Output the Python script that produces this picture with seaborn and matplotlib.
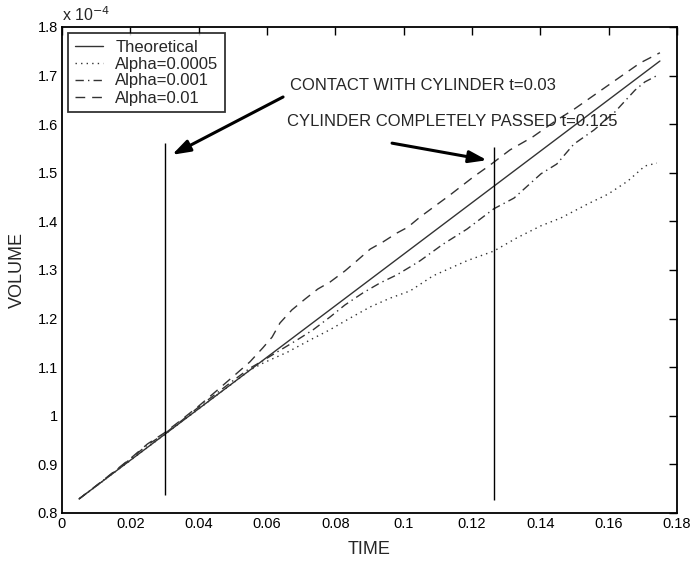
import matplotlib
matplotlib.use("Agg")
import matplotlib.pyplot as plt
import seaborn as sns

# ---- data (volume in units of 1e-4) ----
t_theory = [0.005, 0.175]
v_theory = [0.829, 1.730]

t_a0005 = [0.005, 0.01, 0.015, 0.02, 0.025, 0.03, 0.035, 0.04, 0.045, 0.05, 0.055, 0.059,
           0.066, 0.0726, 0.0784, 0.0843, 0.0902, 0.096, 0.1019, 0.1086, 0.1185, 0.1264,
           0.1331, 0.1402, 0.146, 0.1539, 0.1598, 0.1656, 0.1706, 0.1741]
v_a0005 = [0.829, 0.855, 0.882, 0.908, 0.935, 0.961, 0.988, 1.014, 1.041, 1.067, 1.094, 1.109,
           1.131, 1.156, 1.177, 1.201, 1.224, 1.242, 1.257, 1.288, 1.319, 1.339,
           1.366, 1.391, 1.407, 1.436, 1.456, 1.483, 1.514, 1.520]

t_a001 = [0.005, 0.01, 0.015, 0.02, 0.025, 0.03, 0.035, 0.04, 0.045, 0.05, 0.055, 0.0582,
          0.0688, 0.0735, 0.0784, 0.0828, 0.0881, 0.093, 0.098, 0.1018, 0.1048, 0.1115,
          0.1185, 0.1264, 0.1323, 0.1402, 0.1448, 0.1498, 0.1557, 0.1618, 0.1677, 0.1706,
          0.1744]
v_a001 = [0.829, 0.856, 0.883, 0.911, 0.940, 0.963, 0.990, 1.018, 1.045, 1.072, 1.098, 1.111,
          1.156, 1.177, 1.203, 1.228, 1.253, 1.273, 1.290, 1.306, 1.319, 1.353,
          1.384, 1.426, 1.448, 1.498, 1.518, 1.559, 1.588, 1.625, 1.670, 1.687,
          1.701]

t_a01 = [0.005, 0.01, 0.015, 0.02, 0.025, 0.03, 0.035, 0.04, 0.045, 0.0506, 0.0550, 0.0588,
         0.0615, 0.0638, 0.0673, 0.0711, 0.0749, 0.0784, 0.0828, 0.0863, 0.0902, 0.094,
         0.0980, 0.1012, 0.1048, 0.1135, 0.1203, 0.1253, 0.1311, 0.1378, 0.1449, 0.1495,
         0.1566, 0.1633, 0.1692, 0.1750]
v_a01 = [0.829, 0.856, 0.884, 0.912, 0.942, 0.965, 0.992, 1.020, 1.050, 1.084, 1.111, 1.140,
         1.162, 1.191, 1.218, 1.240, 1.261, 1.275, 1.298, 1.319, 1.343, 1.358,
         1.376, 1.388, 1.409, 1.454, 1.491, 1.516, 1.547, 1.574, 1.609, 1.629,
         1.664, 1.697, 1.726, 1.747]

series_labels = ["Theoretical", "Alpha=0.0005", "Alpha=0.001", "Alpha=0.01"]

event_times = [0.0302, 0.1264]
event_lo = [0.837, 0.827]
event_hi = [1.561, 1.553]

xticks = [0, 0.02, 0.04, 0.06, 0.08, 0.1, 0.12, 0.14, 0.16, 0.18]
xtick_labels = ["0", "0.02", "0.04", "0.06", "0.08", "0.1", "0.12", "0.14", "0.16", "0.18"]
yticks = [0.8, 0.9, 1.0, 1.1, 1.2, 1.3, 1.4, 1.5, 1.6, 1.7, 1.8]
ytick_labels = ["0.8", "0.9", "1", "1.1", "1.2", "1.3", "1.4", "1.5", "1.6", "1.7", "1.8"]

# ---- style ----
sns.set_theme(style="white")
plt.rcParams["font.family"] = ["Liberation Sans", "DejaVu Sans"]

fig = plt.figure(figsize=(6.91, 5.63), dpi=100)
ax = fig.add_axes([62/691, 1-513/563, 615/691, 486/563])

lc = "#333333"
sns.lineplot(x=t_theory, y=v_theory, ax=ax, color=lc, lw=1.0, linestyle="-", label=series_labels[0])
sns.lineplot(x=t_a0005, y=v_a0005, ax=ax, color=lc, lw=1.0, linestyle=(0, (1, 3)), label=series_labels[1])
sns.lineplot(x=t_a001, y=v_a001, ax=ax, color=lc, lw=1.0, linestyle=(0, (6, 3, 1, 3)), label=series_labels[2])
sns.lineplot(x=t_a01, y=v_a01, ax=ax, color=lc, lw=1.0, linestyle=(0, (7, 5)), label=series_labels[3])

ax.vlines(event_times, event_lo, event_hi, colors="black", lw=1.0)

ax.set_xlim(0, 0.18)
ax.set_ylim(0.8, 1.8)
ax.set_xticks(xticks)
ax.set_xticklabels(xtick_labels)
ax.set_yticks(yticks)
ax.set_yticklabels(ytick_labels)
ax.tick_params(direction="in", length=6, width=1, top=True, right=True,
               labelsize=10.5, colors="black", pad=3)
for s in ax.spines.values():
    s.set_color("black")
    s.set_linewidth(1.3)

ax.set_xlabel("TIME", fontsize=13, labelpad=7)
ax.set_ylabel("VOLUME", fontsize=13, labelpad=8)

fig.text(62/691, 1-15/563, r"x 10$^{-4}$", fontsize=11.5, va="center", ha="left")

arrow_kw = dict(arrowstyle="-|>,head_length=0.9,head_width=0.3", lw=2.2, color="black",
                shrinkA=0, shrinkB=0)
ax.annotate("", xy=(0.0322, 1.537), xytext=(0.0647, 1.656), arrowprops=arrow_kw)
ax.text(0.0667, 1.679, "CONTACT WITH CYLINDER t=0.03", fontsize=12, va="center", ha="left")
ax.annotate("", xy=(0.1244, 1.526), xytext=(0.0966, 1.561), arrowprops=arrow_kw)
ax.text(0.0658, 1.605, "CYLINDER COMPLETELY PASSED t=0.125", fontsize=12, va="center", ha="left")

leg = ax.legend(loc="upper left", fontsize=12, frameon=True, fancybox=False,
                edgecolor="black", borderpad=0.4, labelspacing=0.12, handlelength=1.7,
                handletextpad=0.75, borderaxespad=0.35)
leg.get_frame().set_linewidth(1.3)

fig.savefig("out.png", dpi=100)
